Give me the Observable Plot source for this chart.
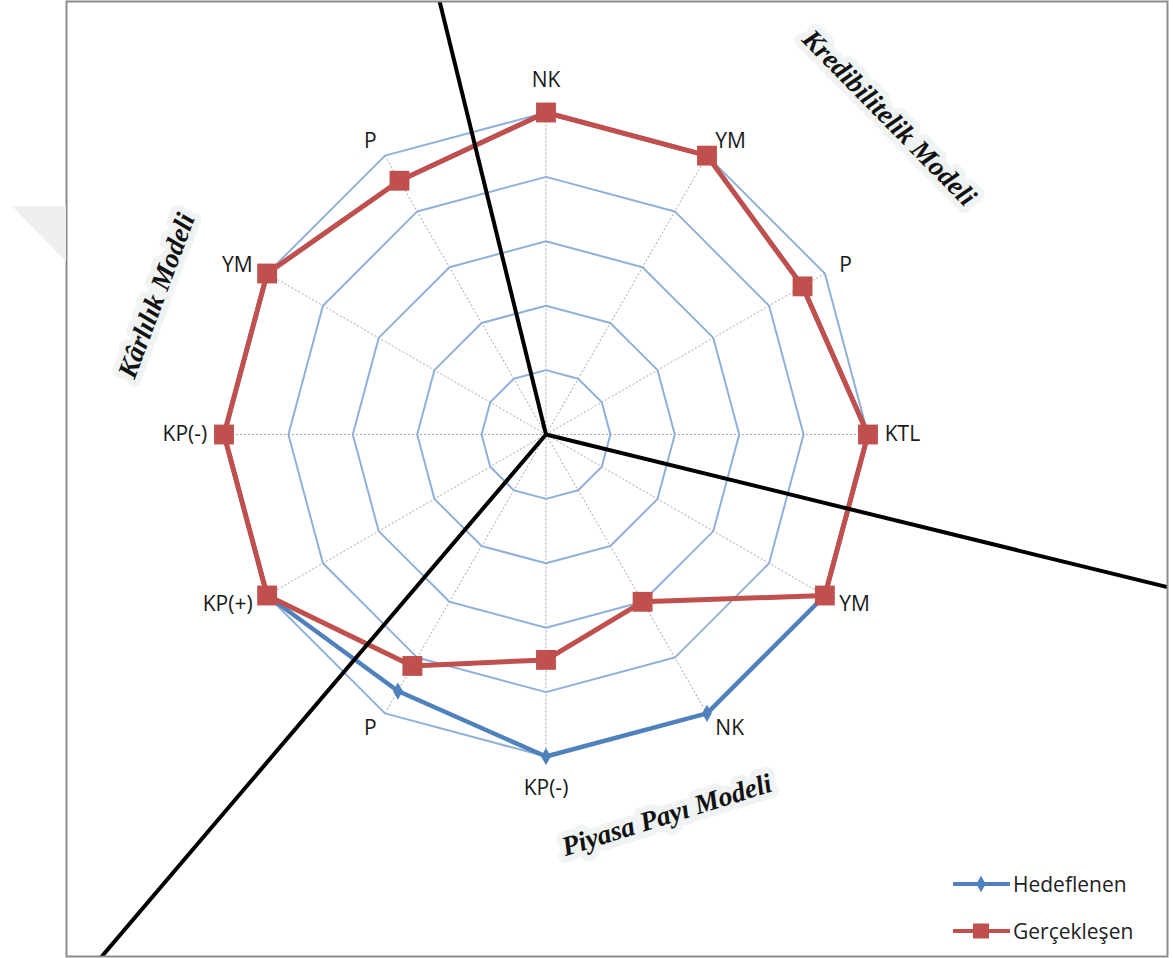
<!DOCTYPE html>
<html>
<head>
<meta charset="utf-8">
<script src="https://cdn.jsdelivr.net/npm/d3@7"></script>
<script src="https://cdn.jsdelivr.net/npm/@observablehq/plot@0.6"></script>
<style>
  html, body { margin: 0; padding: 0; background: #fff; }
  #wrap { position: relative; width: 1173px; height: 958px; overflow: hidden; }
  #wrap svg { display: block; }
  .watermark { position: absolute; left: 12px; top: 206px; width: 54px; height: 56px;
    background: #efefef; clip-path: polygon(0 0, 100% 0, 100% 100%); }
  .legend { position: absolute; left: 953px; font-family: "Open Sans", Lato, sans-serif; font-size: 21px; color: #222; }
  .legend .row { position: absolute; left: 0; display: flex; align-items: center; white-space: nowrap; }
  .legend svg { display: block; margin-right: 3px; }
</style>
</head>
<body>
<div id="wrap"><div class="watermark"></div></div>
<script>
// ---------- data ----------
const axisLabels   = ["NK", "YM", "P", "KTL", "YM", "NK", "KP(-)", "P", "KP(+)", "KP(-)", "YM", "P"];
const hedeflenen   = [5, 5, 4.6, 5, 5, 5, 5, 4.6, 5, 5, 5, 4.55];
const gerceklesen  = [5, 5, 4.6, 5, 5, 3, 3.5, 4.15, 5, 5, 5, 4.55];
const seriesNames  = ["Hedeflenen", "Gerçekleşen"];
const ringLevels   = [1, 2, 3, 4, 5];
const modelNames   = ["Kredibilitelik Modeli", "Kârlılık Modeli", "Piyasa Payı Modeli"];
const dividerBearings = [346.2, 103.8, 220.4]; // degrees, clockwise from north

// ---------- layout / style ----------
const W = 1173, H = 958;
const M = {top: 1, right: 6, bottom: 2, left: 66};
const CX = 545.5, CY = 434, UNIT = 64.4;        // pixel centre and pixels per value unit
const colors = {Hedeflenen: "#4f81bd", "Gerçekleşen": "#c0504d"};
const modelLayout = [                            // bearing (deg), radius (units), rotation (deg)
  {bearing: 47.3, r: 7.25, rotate: 45.5},
  {bearing: 289.6, r: 6.42, rotate: -69.5},
  {bearing: 162.4, r: 6.2, rotate: -17.4}
];

const n = axisLabels.length;
const rad = i => (i * 360 / n) * Math.PI / 180;
const polar = (bearingRad, r) => ({x: r * Math.sin(bearingRad), y: r * Math.cos(bearingRad)});

const rings = ringLevels.flatMap(level => axisLabels.map((_, i) => ({level, ...polar(rad(i), level)})));
const maxLevel = d3.max(ringLevels);
const spokes = axisLabels.map((_, i) => {
  const p = polar(rad(i), maxLevel);
  return {x1: 0, y1: 0, x2: p.x, y2: p.y};
});
const seriesData = (name, vals) => vals.map((v, i) => ({series: name, label: axisLabels[i], ...polar(rad(i), v)}));
const blue = seriesData(seriesNames[0], hedeflenen);
const red = seriesData(seriesNames[1], gerceklesen);

const labelData = axisLabels.map((label, i) => {
  const s = Math.sin(rad(i));
  const anchor = Math.abs(s) < 1e-6 ? "middle" : (s > 0 ? "start" : "end");
  const r = anchor === "middle" ? maxLevel + 0.5 : maxLevel + 0.26;
  return {label, anchor, ...polar(rad(i), r)};
});

const dividers = dividerBearings.map(b => {
  const p = polar(b * Math.PI / 180, 16);
  return {x1: 0, y1: 0, x2: p.x, y2: p.y};
});

const models = modelNames.map((name, i) => {
  const L = modelLayout[i];
  return {name, rotate: L.rotate, ...polar(L.bearing * Math.PI / 180, L.r)};
});

const labelFont = {fontFamily: "'Open Sans', Lato, sans-serif", fontSize: 21, fill: "#1a1a1a"};

const plot = Plot.plot({
  width: W, height: H,
  marginTop: M.top, marginRight: M.right, marginBottom: M.bottom, marginLeft: M.left,
  x: {domain: [(M.left - CX) / UNIT, (W - M.right - CX) / UNIT], axis: null},
  y: {domain: [-(H - M.bottom - CY) / UNIT, (CY - M.top) / UNIT], axis: null},
  style: {background: "#fff", overflow: "hidden"},
  marks: [
    Plot.link(spokes, {x1: "x1", y1: "y1", x2: "x2", y2: "y2", stroke: "#a6a6a6", strokeWidth: 1, strokeDasharray: "2,2"}),
    Plot.line(rings, {x: "x", y: "y", z: "level", curve: "linear-closed", stroke: "#8fb0d9", strokeWidth: 2}),
    Plot.line(blue, {x: "x", y: "y", curve: "linear-closed", stroke: colors.Hedeflenen, strokeWidth: 4.5}),
    Plot.dot(blue, {x: "x", y: "y", symbol: "diamond", r: 5.2, fill: colors.Hedeflenen, stroke: "none"}),
    Plot.line(red, {x: "x", y: "y", curve: "linear-closed", stroke: colors["Gerçekleşen"], strokeWidth: 5}),
    Plot.dot(red, {x: "x", y: "y", symbol: "square", r: 11.2, fill: colors["Gerçekleşen"], stroke: "none"}),
    ...["start", "middle", "end"].map(a =>
      Plot.text(labelData.filter(d => d.anchor === a), {x: "x", y: "y", text: "label", textAnchor: a, ...labelFont})
    ),
    Plot.link(dividers, {x1: "x1", y1: "y1", x2: "x2", y2: "y2", stroke: "#000", strokeWidth: 4, clip: "frame"}),
    Plot.text(models, {x: "x", y: "y", text: "name", rotate: "rotate", fontFamily: "'Liberation Serif', 'DejaVu Serif', serif",
      fontStyle: "italic", fontWeight: "bold", fontSize: 27.5, fill: "#111", stroke: "#eef3f2", strokeWidth: 13,
      strokeOpacity: 0.85, ariaLabel: "model-labels"}),
    Plot.frame({stroke: "#8c8c8c", strokeWidth: 2})
  ]
});

d3.select(plot).selectAll('g[aria-label="model-labels"] text')
  .style("filter", "drop-shadow(1.5px 1.5px 1px rgba(0,0,0,0.35))");

const wrap = document.getElementById("wrap");
wrap.appendChild(plot);

// legend (HTML overlay inside the chart frame)
const legend = document.createElement("div");
legend.className = "legend";
legend.style.top = "0px";
wrap.appendChild(legend);
const legendRowsTop = [870, 917];
seriesNames.forEach((name, i) => {
  const row = document.createElement("div");
  row.className = "row";
  row.style.top = legendRowsTop[i] + "px";
  const c = colors[name];
  const marker = i === 0
    ? `<path d="${d3.symbol(d3.symbolDiamond, 5 * 5 * Math.PI)()}" transform="translate(28,13)" fill="${c}"/>`
    : `<rect x="20" y="5.5" width="16" height="15" fill="${c}"/>`;
  row.innerHTML = `<svg width="57" height="26"><line x1="1" x2="56" y1="13" y2="13" stroke="${c}" stroke-width="4" stroke-linecap="round"/>${marker}</svg><span>${name}</span>`;
  legend.appendChild(row);
});
</script>
</body>
</html>
